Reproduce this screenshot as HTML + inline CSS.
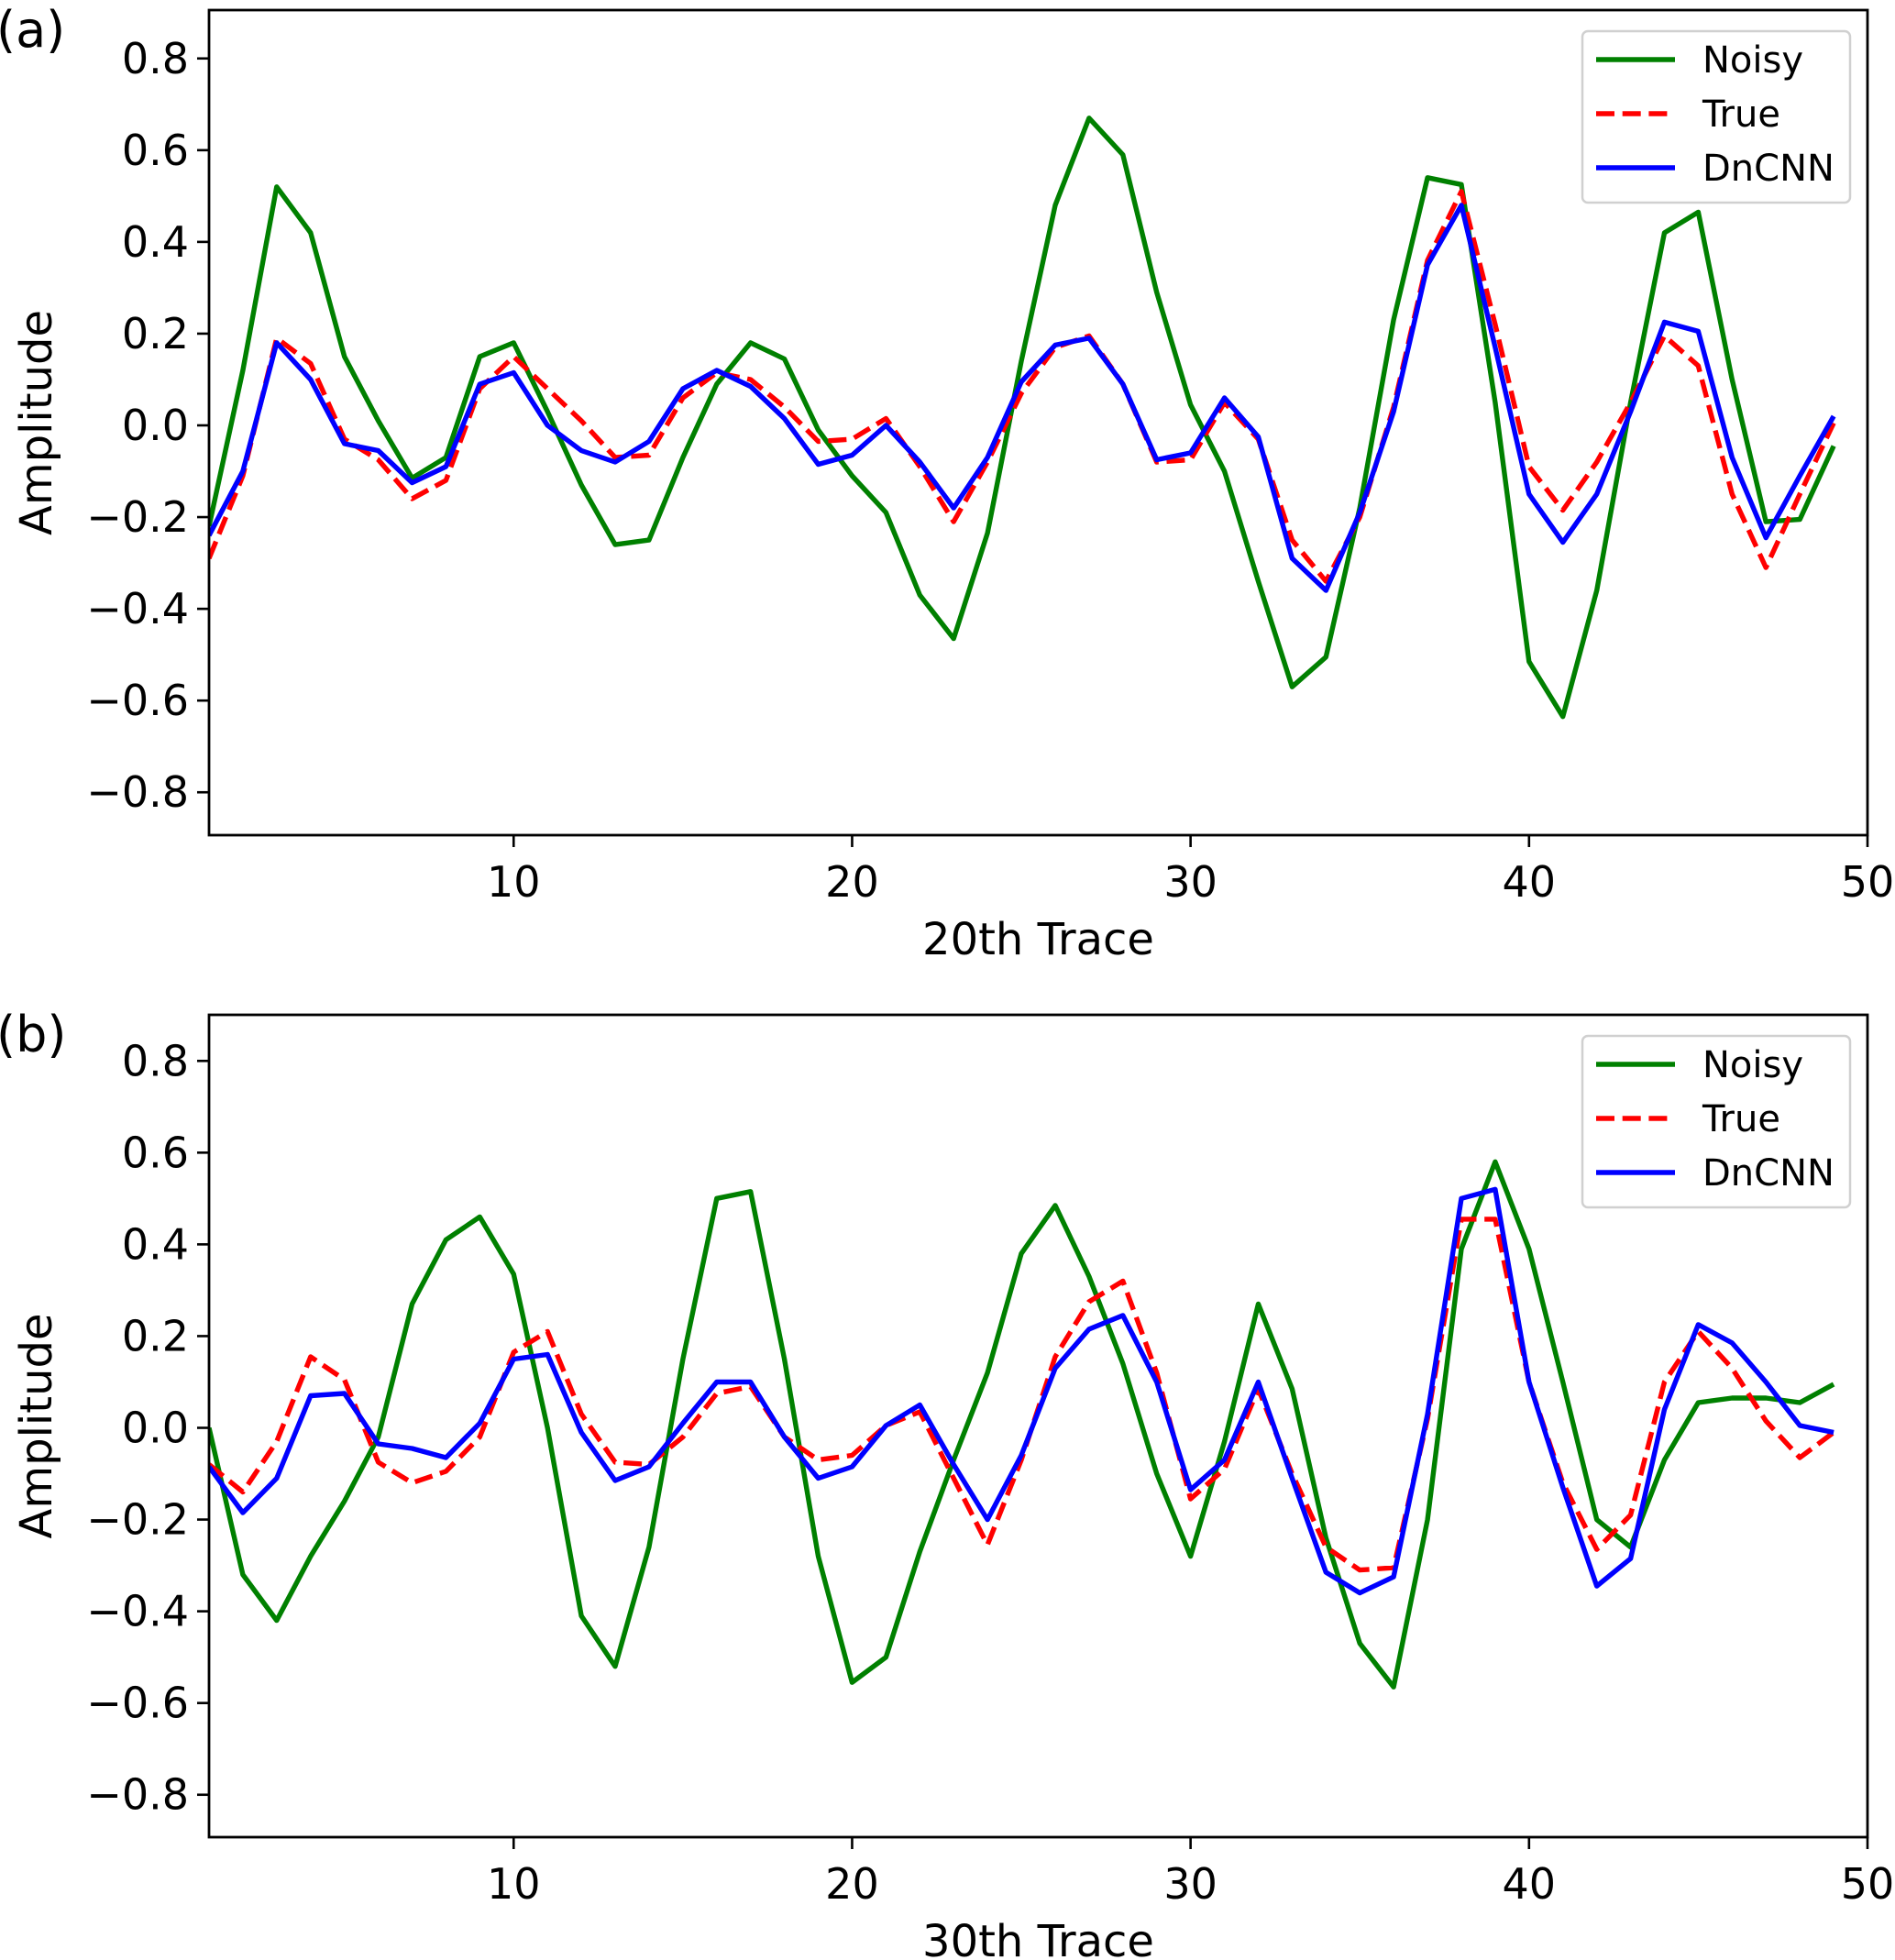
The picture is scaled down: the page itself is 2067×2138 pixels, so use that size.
<!DOCTYPE html>
<html><head><meta charset="utf-8"><style>
html,body{margin:0;padding:0;background:#fff;}
svg{display:block;font-family:"DejaVu Sans","Liberation Sans",sans-serif;}
</style></head><body>
<svg id="fig" width="2067" height="2138" viewBox="0 0 2067 2138" xmlns="http://www.w3.org/2000/svg"></svg>
<script>
const xs = [];
for (let i = 1; i <= 49; i++) xs.push(i);
const noisyA = [-0.22,0.12,0.52,0.42,0.15,0.01,-0.115,-0.07,0.15,0.18,0.03,-0.13,-0.26,-0.25,-0.07,0.09,0.18,0.145,-0.01,-0.11,-0.19,-0.37,-0.465,-0.235,0.14,0.48,0.67,0.59,0.29,0.045,-0.1,-0.34,-0.57,-0.505,-0.18,0.23,0.54,0.525,0.05,-0.515,-0.635,-0.36,0.05,0.42,0.465,0.1,-0.21,-0.205,-0.045];
const trueA = [-0.29,-0.11,0.19,0.135,-0.03,-0.075,-0.16,-0.12,0.08,0.15,0.08,0.01,-0.07,-0.065,0.06,0.115,0.1,0.04,-0.035,-0.03,0.015,-0.09,-0.21,-0.08,0.07,0.17,0.195,0.09,-0.08,-0.075,0.05,-0.03,-0.25,-0.34,-0.2,0.04,0.36,0.51,0.22,-0.09,-0.185,-0.08,0.05,0.195,0.13,-0.15,-0.31,-0.15,0.005];
const dncnnA = [-0.24,-0.1,0.18,0.1,-0.04,-0.055,-0.125,-0.09,0.09,0.115,0.0,-0.055,-0.08,-0.035,0.08,0.12,0.085,0.015,-0.085,-0.065,0.0,-0.08,-0.18,-0.07,0.095,0.175,0.19,0.09,-0.075,-0.06,0.06,-0.025,-0.29,-0.36,-0.19,0.03,0.35,0.48,0.17,-0.15,-0.255,-0.15,0.03,0.225,0.205,-0.07,-0.245,-0.11,0.02];
const noisyB = [0.0,-0.32,-0.42,-0.28,-0.16,-0.02,0.27,0.41,0.46,0.335,0.0,-0.41,-0.52,-0.26,0.15,0.5,0.515,0.15,-0.28,-0.555,-0.5,-0.27,-0.07,0.12,0.38,0.485,0.33,0.14,-0.1,-0.28,-0.03,0.27,0.085,-0.24,-0.47,-0.565,-0.2,0.39,0.58,0.39,0.1,-0.2,-0.26,-0.07,0.055,0.065,0.065,0.055,0.095];
const trueB = [-0.08,-0.14,-0.03,0.155,0.105,-0.075,-0.12,-0.095,-0.02,0.165,0.21,0.03,-0.075,-0.08,-0.02,0.075,0.09,-0.02,-0.07,-0.06,0.005,0.035,-0.11,-0.255,-0.07,0.155,0.275,0.32,0.12,-0.155,-0.09,0.085,-0.1,-0.26,-0.31,-0.305,0.02,0.455,0.455,0.1,-0.12,-0.265,-0.19,0.1,0.21,0.13,0.015,-0.065,-0.01];
const dncnnB = [-0.085,-0.185,-0.11,0.07,0.075,-0.035,-0.045,-0.065,0.01,0.15,0.16,-0.01,-0.115,-0.085,0.01,0.1,0.1,-0.02,-0.11,-0.085,0.005,0.05,-0.08,-0.2,-0.06,0.13,0.215,0.245,0.1,-0.135,-0.07,0.1,-0.11,-0.315,-0.36,-0.325,0.03,0.5,0.52,0.1,-0.13,-0.345,-0.285,0.04,0.225,0.185,0.1,0.005,-0.01];
const xTicks = [10,20,30,40,50];
const yTicks = [0.8,0.6,0.4,0.2,0.0,-0.2,-0.4,-0.6,-0.8];
const xLabels = ["20th Trace","30th Trace"];
const panelLabels = ["(a)","(b)"];

const NS = "http://www.w3.org/2000/svg";
const svg = document.getElementById('fig');
function mk(tag, attrs, parent){ const e=document.createElementNS(NS,tag); for(const k in attrs) e.setAttribute(k,attrs[k]); (parent||svg).appendChild(e); return e; }

function panel(idx, top, bottom, zeroY, series){
  const L=228, R=2037, ppu=(R-L)/49;
  const xS = v => L + (v-1)*ppu;
  const yS = v => zeroY - v*500.3;
  const g = mk('g',{});
  
  
  const clipId='clip'+idx;
  const cp=mk('clipPath',{id:clipId},g); mk('rect',{x:L,y:top,width:R-L,height:bottom-top},cp);
  const styles=[{c:'#008000',d:null,n:'noisy'},{c:'#ff0000',d:'20 8.7',n:'true'},{c:'#0000ff',d:null,n:'dncnn'}];
  series.forEach((arr,si)=>{
    const pts = arr.map((v,i)=>xS(xs[i]).toFixed(1)+','+yS(v).toFixed(1)).join(' ');
    const pl = mk('polyline',{points:pts,fill:'none',stroke:styles[si].c,'stroke-width':5.4,'stroke-linejoin':'round','clip-path':'url(#'+clipId+')'},g);
    if(styles[si].d) pl.setAttribute('stroke-dasharray',styles[si].d);
    
    
  });
  const fr=mk('rect',{x:L,y:top,width:R-L,height:bottom-top,fill:'none',stroke:'#000','stroke-width':2.8},g);
  
  
  xTicks.forEach(t=>{
    const x=xS(t);
    mk('line',{x1:x,y1:bottom,x2:x,y2:bottom+13,stroke:'#000','stroke-width':2.6},g);
    const tx=mk('text',{x:x,y:bottom+67,'font-size':46,'text-anchor':'middle',fill:'#000'},g);
    tx.textContent=t;
    
    
  });
  yTicks.forEach(t=>{
    const y=yS(t);
    mk('line',{x1:L-13,y1:y,x2:L,y2:y,stroke:'#000','stroke-width':2.6},g);
    const tx=mk('text',{x:L-22,y:y+16,'font-size':46,'text-anchor':'end',fill:'#000'},g);
    tx.textContent=(t<0?'\u2212':'')+Math.abs(t).toFixed(1);
    
    
  });
  const xl=mk('text',{x:(L+R)/2,y:bottom+130,'font-size':48,'text-anchor':'middle',fill:'#000'},g);
  xl.textContent=xLabels[idx];
  
  
  const yc=(top+bottom)/2;
  const yl=mk('text',{x:0,y:0,'font-size':48,'text-anchor':'middle',fill:'#000',transform:'translate(56,'+yc+') rotate(-90)'},g);
  yl.textContent='Amplitude';
  
  
  const pl=mk('text',{x:-4,y:top+40,'font-size':54,fill:'#000'},g);
  pl.textContent=panelLabels[idx];
  
  
  const lg=mk('g',{},g);
  
  
  const lt=top+23;
  mk('rect',{x:1726,y:lt,width:292,height:187,rx:6,fill:'#fff','fill-opacity':0.8,stroke:'#d0d0d0','stroke-width':2.5},lg);
  const names=['Noisy','True','DnCNN'];
  names.forEach((n,i)=>{
    const y=lt+31+i*59;
    const ln=mk('line',{x1:1741,y1:y,x2:1827,y2:y,stroke:styles[i].c,'stroke-width':5.4},lg);
    if(styles[i].d) ln.setAttribute('stroke-dasharray','20 8.7');
    const tx=mk('text',{x:1857,y:y+14,'font-size':40,fill:'#000'},lg);
    tx.textContent=n;
    
    
  });
}
panel(0, 11, 911, 464, [noisyA,trueA,dncnnA]);
panel(1, 1107, 2004, 1557.5, [noisyB,trueB,dncnnB]);
</script>
</body></html>
